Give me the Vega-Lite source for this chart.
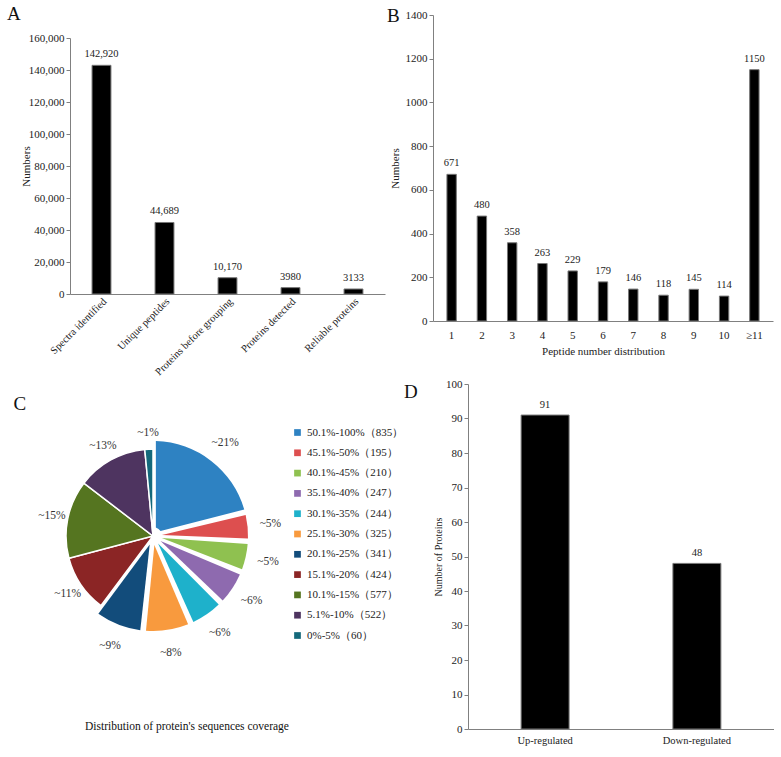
{
  "$schema": "https://vega.github.io/schema/vega-lite/v6.json",
  "background": "white",
  "padding": {"left": 7, "top": 5, "right": 0, "bottom": 0},
  "config": {
    "font": "Liberation Serif",
    "view": {"stroke": null},
    "axis": {"labelFont": "Liberation Serif", "titleFont": "Liberation Serif", "labelFontSize": 11, "titleFontSize": 11, "titleFontWeight": "normal", "labelColor": "#222", "titleColor": "#222", "domainColor": "#808080", "tickColor": "#808080", "grid": false, "tickSize": 4},
    "legend": {"labelFont": "Liberation Serif"},
    "title": {"font": "Liberation Serif", "fontWeight": "normal", "fontSize": 19, "color": "#111", "anchor": "start"},
    "text": {"font": "Liberation Serif"}
  },
  "spacing": 0,
  "vconcat": [
    {
      "spacing": 2,
      "hconcat": [
        {
          "width": 315, "height": 279,
          "title": {"text": "A", "frame": "group", "dx": -63, "dy": 9, "offset": 0},
          "data": {"values": [
            {"category": "Spectra identified", "value": 142920, "label": "142,920"},
            {"category": "Unique peptides", "value": 44689, "label": "44,689"},
            {"category": "Proteins before grouping", "value": 10170, "label": "10,170"},
            {"category": "Proteins detected", "value": 3980, "label": "3980"},
            {"category": "Reliable proteins", "value": 3133, "label": "3133"}
          ]},
          "encoding": {
            "x": {"field": "category", "type": "nominal", "sort": null, "scale": {"paddingInner": 0.7, "paddingOuter": 0.35}, "axis": {"title": null, "labelAngle": -45, "ticks": false, "labelPadding": 2, "labelFontSize": 10.5}},
            "y": {"field": "value", "type": "quantitative", "scale": {"domain": [0, 160000], "range": [279, 23]}, "axis": {"title": "Numbers", "values": [0, 20000, 40000, 60000, 80000, 100000, 120000, 140000, 160000], "format": ",d", "titlePadding": -3}}
          },
          "layer": [
            {"mark": {"type": "bar", "color": "black", "stroke": "#777", "strokeWidth": 1}},
            {"mark": {"type": "text", "dy": -11, "fontSize": 10.5, "color": "#222"}, "encoding": {"text": {"field": "label"}}}
          ]
        },
        {
          "width": 340, "height": 306,
          "title": {"text": "B", "frame": "group", "dx": -46, "dy": 21, "offset": 4},
          "data": {"values": [
            {"n": "1", "v": 671}, {"n": "2", "v": 480}, {"n": "3", "v": 358}, {"n": "4", "v": 263},
            {"n": "5", "v": 229}, {"n": "6", "v": 179}, {"n": "7", "v": 146}, {"n": "8", "v": 118},
            {"n": "9", "v": 145}, {"n": "10", "v": 114}, {"n": "≥11", "v": 1150}
          ]},
          "encoding": {
            "x": {"field": "n", "type": "ordinal", "sort": null, "scale": {"paddingInner": 0.69, "paddingOuter": 0.46}, "axis": {"title": "Peptide number distribution", "labelAngle": 0, "ticks": false, "labelPadding": 8, "titlePadding": 5, "labelFontSize": 11, "titleFontSize": 11}},
            "y": {"field": "v", "type": "quantitative", "scale": {"domain": [0, 1400]}, "axis": {"title": "Numbers", "values": [0, 200, 400, 600, 800, 1000, 1200, 1400], "format": "d", "titlePadding": 5}}
          },
          "layer": [
            {"mark": {"type": "bar", "color": "black", "stroke": "#777", "strokeWidth": 1}},
            {"mark": {"type": "text", "dy": -11, "fontSize": 10.5, "color": "#222"}, "encoding": {"text": {"field": "v"}}}
          ]
        }
      ]
    },
    {
      "spacing": 0,
      "hconcat": [
        {
          "title": {"text": "C", "offset": 0, "dx": -10, "dy": 30},
          "resolve": {"scale": {"color": "independent"}, "legend": {"color": "independent"}},
          "vconcat": [
            {
              "width": 166, "height": 304,
              "title": {"text": "Distribution of  protein's sequences coverage", "orient": "bottom", "anchor": "middle", "frame": "group", "dx": 34, "offset": 33, "fontSize": 11.5},
              "data": {"values": [
                {"i": 1, "range": "50.1%-100%", "legend": "50.1%-100%（835）", "count": 835, "label": "~21%"},
                {"i": 2, "range": "45.1%-50%", "legend": "45.1%-50%（195）", "count": 195, "label": "~5%"},
                {"i": 3, "range": "40.1%-45%", "legend": "40.1%-45%（210）", "count": 210, "label": "~5%"},
                {"i": 4, "range": "35.1%-40%", "legend": "35.1%-40%（247）", "count": 247, "label": "~6%"},
                {"i": 5, "range": "30.1%-35%", "legend": "30.1%-35%（244）", "count": 244, "label": "~6%"},
                {"i": 6, "range": "25.1%-30%", "legend": "25.1%-30%（325）", "count": 325, "label": "~8%"},
                {"i": 7, "range": "20.1%-25%", "legend": "20.1%-25%（341）", "count": 341, "label": "~9%"},
                {"i": 8, "range": "15.1%-20%", "legend": "15.1%-20%（424）", "count": 424, "label": "~11%"},
                {"i": 9, "range": "10.1%-15%", "legend": "10.1%-15%（577）", "count": 577, "label": "~15%"},
                {"i": 10, "range": "5.1%-10%", "legend": "5.1%-10%（522）", "count": 522, "label": "~13%"},
                {"i": 11, "range": "0%-5%", "legend": "0%-5%（60）", "count": 60, "label": "~1%"}
              ]},
              "encoding": {
                "theta": {"field": "count", "type": "quantitative", "stack": true},
                "order": {"field": "i", "type": "quantitative"}
              },
              "layer": [
                {
                  "mark": {"type": "arc", "outerRadius": 95, "innerRadius": 9, "padAngle": 0.06},
                  "encoding": {
                    "color": {"field": "legend", "type": "nominal", "sort": null,
                      "scale": {"domain": ["50.1%-100%（835）", "45.1%-50%（195）", "40.1%-45%（210）", "35.1%-40%（247）", "30.1%-35%（244）", "25.1%-30%（325）", "20.1%-25%（341）", "15.1%-20%（424）", "10.1%-15%（577）", "5.1%-10%（522）", "0%-5%（60）"],
                        "range": ["#2E82C2", "#DD4F4F", "#8FC150", "#8E6AAF", "#1EB1CB", "#F89A3E", "#124C7B", "#8B2525", "#557520", "#4E3460", "#14697B"]},
                      "legend": {"title": null, "orient": "none", "legendX": 222, "legendY": 43, "symbolType": "square", "symbolSize": 45, "symbolStrokeWidth": 0, "labelFontSize": 11, "labelFont": "Liberation Serif", "labelColor": "#222", "rowPadding": 8.3, "padding": 0, "labelLimit": 0}},
                    "opacity": {"condition": {"test": "indexof(['50.1%-100%','45.1%-50%','40.1%-45%','35.1%-40%','30.1%-35%','25.1%-30%','20.1%-25%'], datum.range) >= 0", "value": 1}, "value": 0}
                  }
                },
                {
                  "mark": {"type": "arc", "outerRadius": 87, "stroke": "white", "strokeWidth": 1.5},
                  "encoding": {
                    "color": {"field": "legend", "type": "nominal", "sort": null},
                    "opacity": {"condition": {"test": "indexof(['50.1%-100%','45.1%-50%','40.1%-45%','35.1%-40%','30.1%-35%','25.1%-30%','20.1%-25%'], datum.range) >= 0", "value": 0}, "value": 1}
                  }
                },
                {
                  "mark": {"type": "text", "radius": 118, "fontSize": 11.5, "color": "#333"},
                  "encoding": {
                    "text": {"field": "label"},
                    "detail": {"field": "legend"},
                    "opacity": {"condition": {"test": "indexof(['50.1%-100%','45.1%-50%','40.1%-45%','35.1%-40%','30.1%-35%','25.1%-30%','20.1%-25%'], datum.range) >= 0", "value": 1}, "value": 0}
                  }
                },
                {
                  "mark": {"type": "text", "radius": 103, "fontSize": 11.5, "color": "#333"},
                  "encoding": {
                    "text": {"field": "label"},
                    "detail": {"field": "legend"},
                    "opacity": {"condition": {"test": "indexof(['50.1%-100%','45.1%-50%','40.1%-45%','35.1%-40%','30.1%-35%','25.1%-30%','20.1%-25%'], datum.range) >= 0", "value": 0}, "value": 1}
                  }
                }
              ]
            }
          ]
        },
        {
          "width": 306, "height": 345,
          "title": {"text": "D", "frame": "group", "dx": -64, "dy": 28, "offset": 4},
          "data": {"values": [
            {"g": "Up-regulated", "v": 91},
            {"g": "Down-regulated", "v": 48}
          ]},
          "encoding": {
            "x": {"field": "g", "type": "nominal", "sort": null, "scale": {"paddingInner": 0.684, "paddingOuter": 0.35}, "axis": {"title": null, "labelAngle": 0, "ticks": false, "labelPadding": 6, "labelFontSize": 10.5}},
            "y": {"field": "v", "type": "quantitative", "scale": {"domain": [0, 100]}, "axis": {"title": "Number of Proteins", "values": [0, 10, 20, 30, 40, 50, 60, 70, 80, 90, 100], "format": "d", "titlePadding": 2, "titleFontSize": 10}}
          },
          "layer": [
            {"mark": {"type": "bar", "color": "black", "stroke": "#777", "strokeWidth": 1}},
            {"mark": {"type": "text", "dy": -10, "fontSize": 10.5, "color": "#222"}, "encoding": {"text": {"field": "v"}}}
          ]
        }
      ]
    }
  ]
}
